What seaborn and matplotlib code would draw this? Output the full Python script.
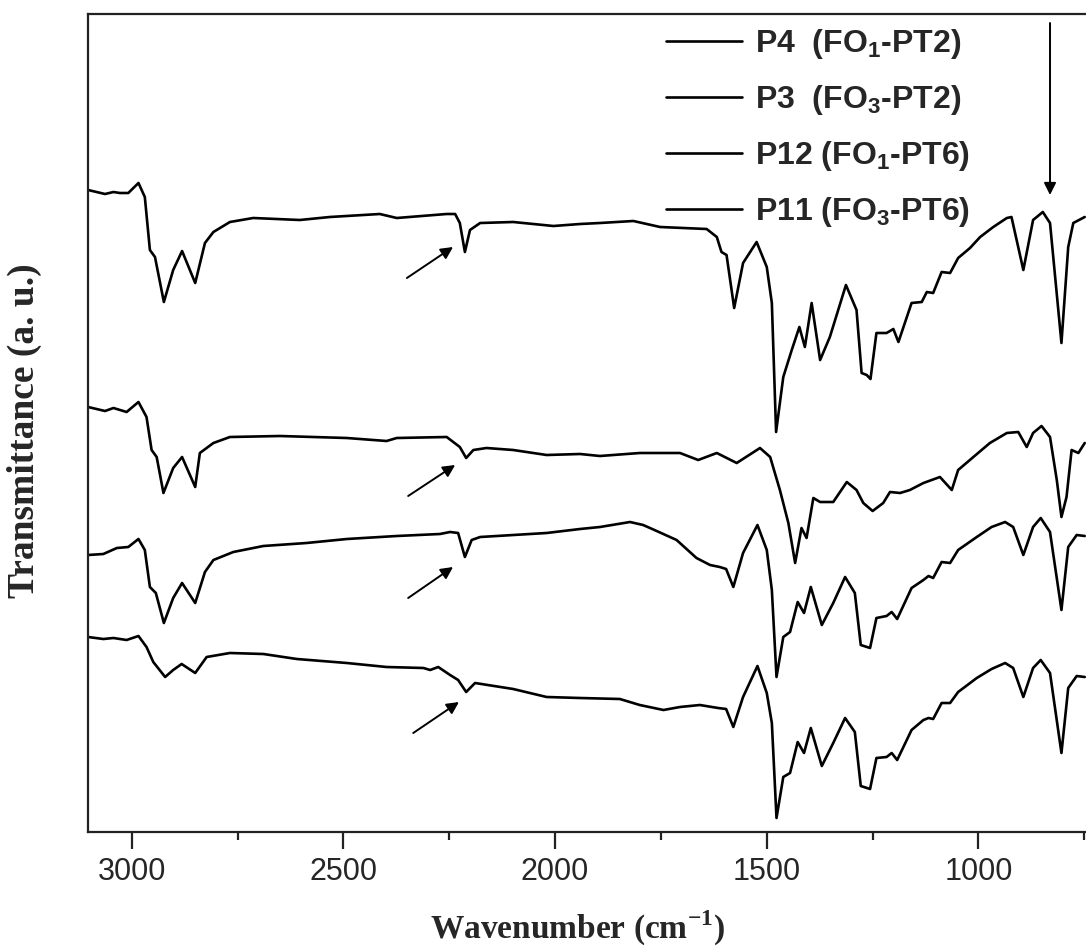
import numpy as np
import pandas as pd
import matplotlib
matplotlib.use("Agg")
import matplotlib.pyplot as plt
from matplotlib.ticker import MultipleLocator
import seaborn as sns

# ---------------- data ----------------
labels = ["P4  (FO$_\\mathregular{1}$-PT2)", "P3  (FO$_\\mathregular{3}$-PT2)",
          "P12 (FO$_\\mathregular{1}$-PT6)", "P11 (FO$_\\mathregular{3}$-PT6)"]

wn_p4 = [3103, 3063, 3043, 3028, 3008, 2984, 2969, 2957, 2945, 2924, 2902, 2881, 2850, 2827, 2807,
         2768, 2713, 2603, 2532, 2414, 2374, 2256, 2236, 2225, 2213, 2201, 2177, 2099, 2004, 1941,
         1894, 1815, 1752, 1642, 1618, 1607, 1595, 1577, 1556, 1524, 1500, 1488, 1478, 1461, 1441,
         1423, 1410, 1394, 1374, 1351, 1313, 1288, 1276, 1264, 1255, 1241, 1217, 1201, 1189, 1158,
         1134, 1122, 1107, 1087, 1067, 1048, 1020, 996, 965, 933, 922, 894, 871, 848, 831, 804,
         788, 776, 749]
t_p4 = [64.2, 63.8, 64.0, 63.9, 63.9, 64.9, 63.5, 58.2, 57.5, 53.0, 56.2, 58.1, 54.9, 58.9, 60.0,
        61.0, 61.4, 61.2, 61.5, 61.8, 61.4, 61.8, 61.8, 60.9, 58.0, 60.2, 60.9, 61.0, 60.6, 60.8,
        60.9, 61.1, 60.5, 60.3, 59.5, 58.0, 57.7, 52.4, 56.9, 59.0, 56.5, 52.9, 40.0, 45.5, 48.2,
        50.5, 48.5, 52.9, 47.2, 49.5, 54.7, 52.2, 45.9, 45.7, 45.3, 49.9, 49.9, 50.3, 49.0, 52.9,
        53.0, 54.0, 53.9, 56.0, 55.9, 57.4, 58.4, 59.5, 60.5, 61.4, 61.5, 56.2, 61.2, 62.0, 60.9, 48.9,
        58.5, 60.9, 61.5]

wn_p3 = [3103, 3063, 3043, 3012, 2984, 2965, 2953, 2941, 2925, 2902, 2881, 2850, 2839, 2807, 2768,
         2650, 2492, 2398, 2374, 2256, 2225, 2210, 2193, 2162, 2099, 2020, 1941, 1894, 1800, 1705,
         1662, 1618, 1571, 1516, 1492, 1469, 1449, 1433, 1418, 1406, 1390, 1374, 1343, 1311, 1288,
         1272, 1250, 1225, 1209, 1185, 1162, 1130, 1091, 1063, 1048, 1012, 973, 933, 906, 886, 871,
         851, 831, 815, 804, 792, 780, 764, 749]
t_p3 = [42.5, 42.1, 42.4, 42.0, 43.0, 41.5, 38.2, 37.5, 33.9, 36.4, 37.5, 34.5, 37.9, 38.9, 39.5,
        39.6, 39.4, 39.1, 39.4, 39.5, 38.5, 37.4, 38.2, 38.4, 38.2, 37.7, 37.8, 37.6, 37.9, 37.9,
        37.2, 37.9, 36.9, 38.4, 37.5, 34.2, 30.9, 26.9, 30.4, 29.4, 33.4, 33.0, 33.0, 35.0, 34.2,
        32.9, 32.1, 32.9, 34.0, 33.9, 34.2, 34.9, 35.5, 34.2, 36.2, 37.5, 38.9, 39.9, 40.0, 38.5, 39.9,
        40.6, 39.5, 35.2, 31.5, 33.5, 38.2, 37.9, 38.9]

wn_p12 = [3103, 3067, 3035, 3008, 2984, 2969, 2957, 2943, 2924, 2902, 2881, 2850, 2827, 2807, 2760,
          2689, 2587, 2492, 2374, 2272, 2248, 2229, 2213, 2197, 2177, 2020, 1941, 1894, 1823, 1792,
          1760, 1713, 1666, 1634, 1611, 1596, 1579, 1556, 1522, 1500, 1488, 1477, 1461, 1445, 1427,
          1412, 1396, 1370, 1343, 1315, 1292, 1278, 1256, 1241, 1217, 1205, 1192, 1158, 1130, 1118,
          1107, 1087, 1067, 1048, 1004, 969, 937, 918, 894, 871, 853, 831, 804, 788, 768, 749]
t_p12 = [27.7, 27.8, 28.4, 28.5, 29.3, 28.2, 24.5, 23.9, 20.9, 23.4, 24.9, 22.9, 26.0, 27.2, 28.0,
         28.6, 28.9, 29.3, 29.6, 29.8, 30.0, 29.9, 27.5, 29.2, 29.5, 29.9, 30.3, 30.5, 31.0, 30.7,
         30.1, 29.2, 27.4, 26.7, 26.5, 26.3, 24.5, 27.9, 30.7, 28.2, 24.2, 15.5, 19.5, 20.0, 23.0,
         21.9, 24.5, 20.7, 22.9, 25.5, 23.9, 18.7, 18.4, 21.4, 21.6, 22.0, 21.3, 24.4, 25.2, 25.6,
         25.4, 27.0, 26.9, 28.2, 29.5, 30.5, 31.0, 30.5, 27.7, 30.5, 31.4, 30.0, 22.2, 28.5, 29.7, 29.6]

wn_p11 = [3103, 3067, 3043, 3012, 2984, 2965, 2949, 2921, 2902, 2882, 2850, 2823, 2768, 2689, 2610,
          2492, 2398, 2311, 2295, 2276, 2248, 2229, 2210, 2189, 2099, 2020, 1941, 1847, 1800, 1744,
          1705, 1658, 1615, 1596, 1579, 1556, 1522, 1500, 1488, 1477, 1461, 1445, 1427, 1412, 1396,
          1370, 1343, 1315, 1292, 1278, 1256, 1241, 1217, 1205, 1192, 1158, 1130, 1118, 1107, 1087,
          1067, 1048, 1004, 969, 937, 918, 894, 871, 853, 831, 804, 788, 768, 749]
t_p11 = [19.5, 19.3, 19.4, 19.2, 19.6, 18.5, 17.0, 15.5, 16.2, 16.8, 15.9, 17.5, 17.9, 17.8, 17.3,
         16.9, 16.5, 16.4, 16.2, 16.5, 15.7, 15.2, 14.0, 14.9, 14.3, 13.5, 13.4, 13.3, 12.7, 12.2,
         12.5, 12.7, 12.4, 12.3, 10.5, 13.5, 16.6, 13.9, 10.9, 1.4, 5.5, 5.9, 9.0, 7.9, 10.4,
         6.6, 8.9, 11.4, 10.0, 4.6, 4.3, 7.4, 7.5, 7.9, 7.2, 10.2, 11.2, 11.4, 11.3, 12.9,
         12.9, 14.0, 15.4, 16.3, 16.9, 16.4, 13.5, 16.4, 17.2, 15.9, 7.9, 14.4, 15.6, 15.5]

# C≡C band markers (tail wavenumber, tail T, head wavenumber, head T)
arrow_tail_wn = [2350, 2347, 2347, 2335]
arrow_tail_t = [55.4, 33.6, 23.4, 9.9]
arrow_head_wn = [2241, 2236, 2241, 2227]
arrow_head_t = [58.5, 36.7, 26.5, 13.0]
# vertical arrow above the 831 cm-1 band
varrow_wn = 831
varrow_t = [80.9, 63.7]

xticks_major = [3000, 2500, 2000, 1500, 1000]

# ---------------- plotting ----------------
sns.set_style("ticks")
plt.rcParams["font.family"] = ["Liberation Sans", "DejaVu Sans"]
plt.rcParams["mathtext.fontset"] = "custom"
plt.rcParams["mathtext.rm"] = "Liberation Sans"
plt.rcParams["mathtext.bf"] = "Liberation Sans:bold"

fig = plt.figure(figsize=(10.86, 9.51), dpi=100)
ax = fig.add_axes([88 / 1086, 1 - 832 / 951, 1 - 88 / 1086, (832 - 14) / 951])

series = [(wn_p4, t_p4), (wn_p3, t_p3), (wn_p12, t_p12), (wn_p11, t_p11)]
for (wn, t), lab in zip(series, labels):
    df = pd.DataFrame({"wn": wn, "T": t})
    sns.lineplot(data=df, x="wn", y="T", ax=ax, color="black", lw=1.9,
                 estimator=None, sort=False, label=lab)

for tx, ty, hx, hy in zip(arrow_tail_wn, arrow_tail_t, arrow_head_wn, arrow_head_t):
    ax.annotate("", xy=(hx, hy), xytext=(tx, ty),
                arrowprops=dict(arrowstyle="-|>", color="black", lw=1.4,
                                mutation_scale=18, shrinkA=0, shrinkB=0))
ax.annotate("", xy=(varrow_wn, varrow_t[1]), xytext=(varrow_wn, varrow_t[0]),
            arrowprops=dict(arrowstyle="-|>", color="black", lw=1.4,
                            mutation_scale=18, shrinkA=0, shrinkB=0))

ax.set_xlim(3103.2, 746)
ax.set_ylim(0, 81.8)
ax.set_xticks(xticks_major)
ax.xaxis.set_minor_locator(MultipleLocator(250))
ax.set_yticks([])
ax.tick_params(axis="x", which="major", length=12, width=1.6, direction="out",
               labelsize=22, pad=6, color="#222222")
ax.tick_params(axis="x", which="minor", length=6, width=1.6, direction="out",
               color="#222222")
for lbl in ax.get_xticklabels():
    lbl.set_fontfamily("Liberation Sans")

for side in ["left", "top", "bottom"]:
    ax.spines[side].set_linewidth(1.6)
    ax.spines[side].set_color("#222222")
ax.spines["right"].set_visible(False)

ax.set_xlabel("Wavenumber (cm$^\\mathregular{-1}$)", fontsize=24, fontweight="bold",
              fontfamily="Liberation Serif")
ax.xaxis.set_label_coords(0.49, -0.094)
ax.set_ylabel("Transmittance (a. u.)", fontsize=27, fontweight="bold",
              fontfamily="Liberation Serif")
ax.yaxis.set_label_coords(-0.046, 0.491)

leg = ax.legend(loc="upper left", bbox_to_anchor=(0.579, 0.984), frameon=False,
                prop={"family": "Liberation Sans", "weight": "bold", "size": 23},
                handlelength=2.38, handletextpad=0.4, labelspacing=0.69,
                borderpad=0, borderaxespad=0)
for h in leg.get_lines():
    h.set_linewidth(1.9)

fig.savefig("out.png", dpi=100)
